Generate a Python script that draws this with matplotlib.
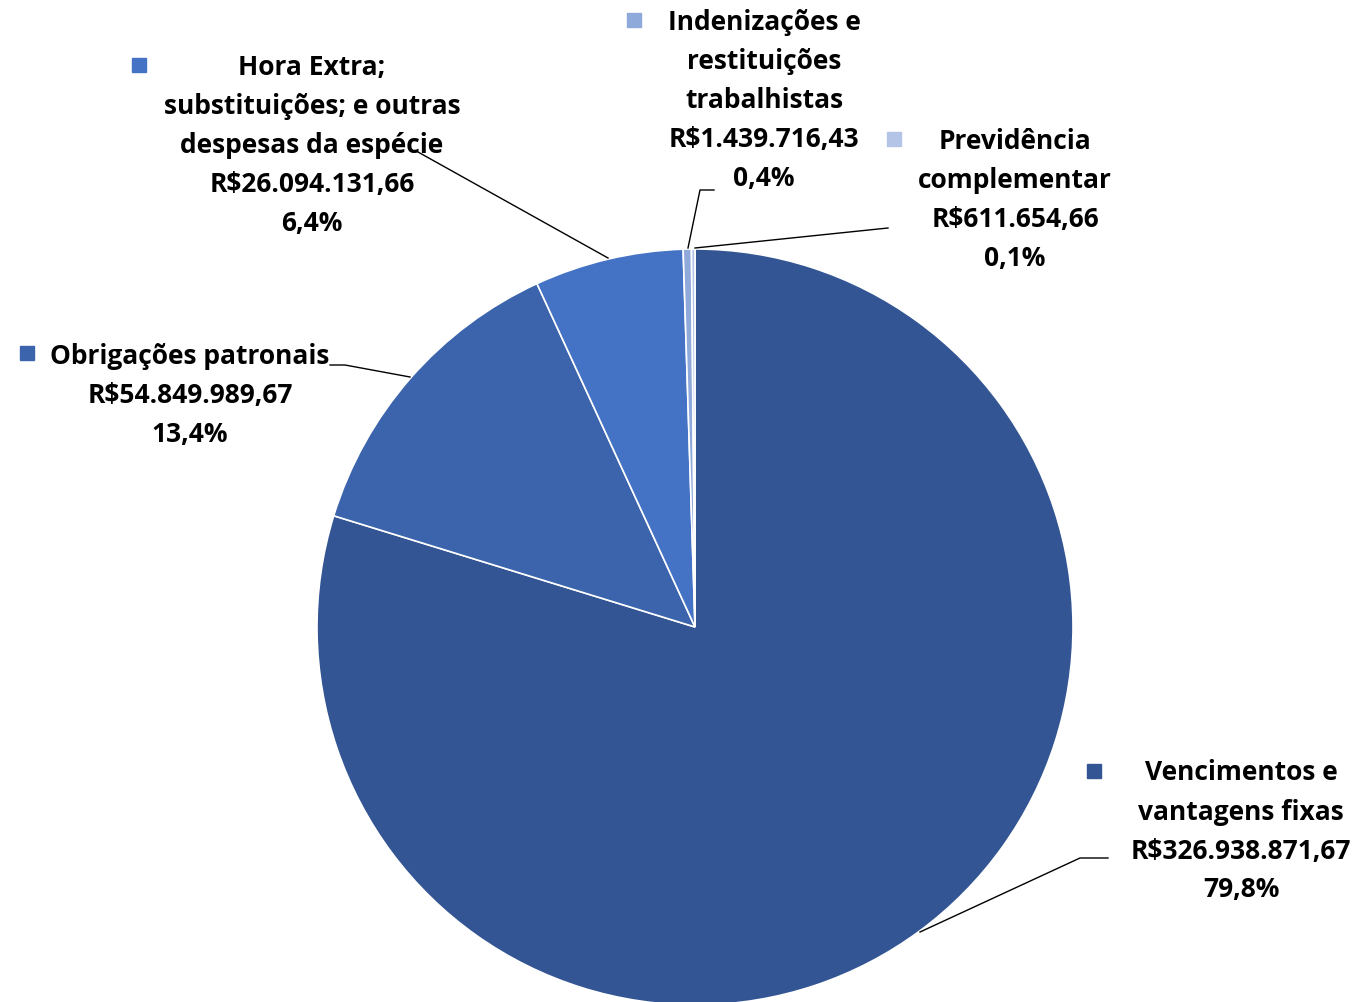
import matplotlib.pyplot as plt

categories = ["Vencimentos e\nvantagens fixas", "Obrigações patronais",
              "Hora Extra;\nsubstituições; e outras\ndespesas da espécie",
              "Indenizações e\nrestituições\ntrabalhistas", "Previdência\ncomplementar"]
values = [326938871.67, 54849989.67, 26094131.66, 1439716.43, 611654.66]
money = ["R$326.938.871,67", "R$54.849.989,67", "R$26.094.131,66",
         "R$1.439.716,43", "R$611.654,66"]
colors = ["#335593", "#3B64AD", "#4472C4", "#8FA9DB", "#B4C4E7"]

W, H = 1368, 1002
fig = plt.figure(figsize=(W / 100, H / 100), dpi=100)
ax = fig.add_axes([0, 0, 1, 1])

cx, cy, r = 695, H - 627, 378
ax.pie(values, colors=colors, startangle=90, counterclock=False,
       center=(cx, cy), radius=r, frame=True,
       wedgeprops=dict(edgecolor="white", linewidth=1.2))
ax.set_xlim(0, W)
ax.set_ylim(0, H)
ax.set_aspect("equal")
ax.axis("off")

total = sum(values)
# label block: (center x, first line y from top, marker x, marker y)
blocks = [(1241, 773, 1094, 771),
          (190, 356, 27, 353),
          (312, 67, 139, 65),
          (764, 22, 634, 20),
          (1015, 141, 894, 139)]
step = 39
for cat, m, v, col, (bx, by, mx, my) in zip(categories, money, values, colors, blocks):
    pct = f"{v / total * 100:.1f}".replace(".", ",") + "%"
    lines = cat.split("\n") + [m, pct]
    for i, ln in enumerate(lines):
        ax.text(bx, H - (by + i * step), ln, ha="center", va="center",
                fontsize=19, fontweight="bold", family="Open Sans", color="black")
    ax.plot(mx, H - my, marker="s", markersize=10, color=col, linestyle="none")

# leader lines (pixel positions from top)
leaders = [[(920, 932), (1080, 858), (1108, 858)],
           [(410, 377), (345, 365), (330, 365)],
           [(608, 258), (418, 152)],
           [(688, 248), (700, 190), (714, 190)],
           [(695, 248), (888, 228)]]
for pts in leaders:
    ax.plot([p[0] for p in pts], [H - p[1] for p in pts], color="black", linewidth=1)

fig.savefig("out.png", dpi=100)
